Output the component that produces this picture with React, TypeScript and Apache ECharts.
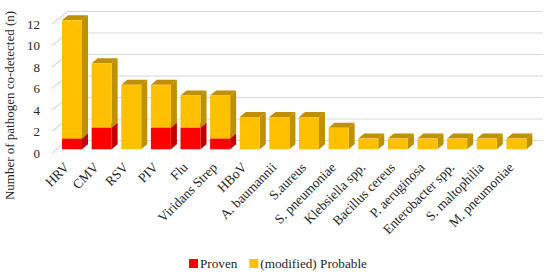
import React, { useEffect, useRef } from "react";
import * as echarts from "echarts";

const categories = ["HRV", "CMV", "RSV", "PIV", "Flu", "Viridans Strep", "HBoV", "A. baumannii", "S.aureus", "S. pneumoniae", "Klebsiella spp.", "Bacillus cereus", "P. aeruginosa", "Enterobacter spp.", "S. maltophilia", "M. pneumoniae"];
const proven = [1, 2, 0, 2, 2, 1, 0, 0, 0, 0, 0, 0, 0, 0, 0, 0];
const probable = [11, 6, 6, 4, 3, 4, 3, 3, 3, 2, 1, 1, 1, 1, 1, 1];
const wallTicks = [0, 2, 4, 6, 8, 10, 12];

const FONT = "'Liberation Serif', serif";
const INK = "#262626";

function bar3d(front: string, side: string, top: string) {
  return (params: any, api: any) => {
    const s = api.value(1), e = api.value(2);
    if (e <= s) return { type: "group", children: [] };
    const [cx, y0Raw] = api.coord([api.value(0), s]);
    const [, y1Raw] = api.coord([api.value(0), e]);
    const ox = 5.2, oy = -3.7, w = 20, dx = 6, dy = -5;
    const l = cx + ox - w / 2, r = l + w;
    const y0 = y0Raw + oy, y1 = y1Raw + oy;
    return {
      type: "group",
      children: [
        { type: "polygon", shape: { points: [[r, y0], [r + dx, y0 + dy], [r + dx, y1 + dy], [r, y1]] }, style: { fill: side } },
        { type: "polygon", shape: { points: [[l, y1], [r, y1], [r + dx, y1 + dy], [l + dx, y1 + dy]] }, style: { fill: top } },
        { type: "rect", shape: { x: l, y: y1, width: w, height: y0 - y1 }, style: { fill: front } },
      ],
    };
  };
}

function wall(params: any, api: any) {
  const y = api.coord([0, api.value(0)])[1];
  const cs = params.coordSys;
  const x0 = cs.x, x1 = cs.x + cs.width + 1;
  const dx = 15.7, dy = -12.5;
  return {
    type: "polyline",
    shape: { points: [[x0, y], [x0 + dx, y + dy], [x1 + dx, y + dy]] },
    style: { fill: "none", stroke: "#d9d9d9", lineWidth: 1.2 },
  };
}

export default function App() {
  const ref = useRef<HTMLDivElement>(null);
  useEffect(() => {
    const chart = echarts.init(ref.current!, undefined, { renderer: "svg" });
    chart.setOption({
      animation: false,
      backgroundColor: "#fff",
      textStyle: { fontFamily: FONT },
      grid: { left: 52, top: 24, width: 474, height: 129, outerBoundsMode: "none" },
      legend: {
        left: 184,
        top: 252,
        itemWidth: 9,
        itemHeight: 9,
        itemGap: 12,
        icon: "rect",
        data: ["Proven", "(modified) Probable"],
        textStyle: { fontFamily: FONT, fontSize: 13.2, color: INK, padding: [0, 0, 0, -3] },
      },
      xAxis: {
        type: "category",
        data: categories,
        axisLine: { show: false },
        axisTick: { show: false },
        axisLabel: { interval: 0, rotate: 45, fontSize: 13.5, color: INK, margin: 12, fontFamily: FONT },
      },
      yAxis: {
        type: "value",
        min: 0,
        max: 12,
        interval: 2,
        name: "Number of pathogen co-detected (n)",
        nameLocation: "middle",
        nameGap: 27,
        nameTextStyle: { fontSize: 13, color: INK, fontFamily: FONT, padding: [0, 34, 0, 0] },
        axisLine: { show: false },
        axisTick: { show: false },
        splitLine: { show: false },
        axisLabel: { fontSize: 13, color: INK, margin: 12, fontFamily: FONT },
      },
      series: [
        {
          type: "custom",
          name: "wall",
          silent: true,
          encode: { y: 0 },
          data: wallTicks.map((t) => [t]),
          renderItem: wall,
          z: 1,
        },
        {
          type: "custom",
          name: "Proven",
          itemStyle: { color: "#ff0000" },
          encode: { x: 0, y: [1, 2] },
          data: categories.map((_, i) => [i, 0, proven[i]]),
          renderItem: bar3d("#ff0000", "#c00000", "#c00000"),
          z: 2,
        },
        {
          type: "custom",
          name: "(modified) Probable",
          itemStyle: { color: "#ffc000" },
          encode: { x: 0, y: [1, 2] },
          data: categories.map((_, i) => [i, proven[i], proven[i] + probable[i]]),
          renderItem: bar3d("#ffc000", "#bf9000", "#bf9000"),
          z: 3,
        },
      ],
    });
    return () => chart.dispose();
  }, []);
  return <div ref={ref} style={{ position: "absolute", left: 0, top: 0, width: 550, height: 277 }} />;
}
